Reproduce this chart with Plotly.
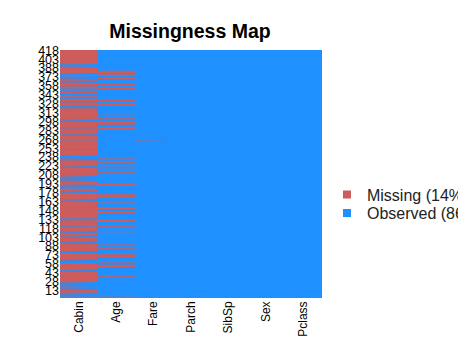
import plotly.graph_objects as go

# variables in the order drawn left -> right
columns = ['Cabin', 'Age', 'Fare', 'Parch', 'SibSp', 'Sex', 'Pclass']
n_rows = 418
row_ticks = list(range(13, 419, 15))

# row numbers counted from the top of the map
cabin_observed = [13, 24, 25, 27, 29, 40, 42, 45, 47, 49, 51, 54, 56, 61, 65, 69, 70, 74, 75, 76,
                  78, 82, 88, 96, 98, 118, 120, 121, 132, 143, 145, 154, 168, 178, 179, 180, 181,
                  182, 184, 186, 196, 198, 212, 213, 215, 217, 219, 220, 222, 228, 230, 232, 234,
                  239, 241, 253, 255, 256, 285, 287, 298, 306, 308, 314, 316, 323, 325, 327, 340,
                  342, 354, 356, 358, 359, 372, 374, 381, 392, 394, 396, 398, 400, 402, 404, 407,
                  410, 411, 413, 414, 415, 416]
age_missing = [33, 34, 37, 38, 39, 42, 43, 48, 49, 58, 59, 64, 65, 66, 85, 86, 91, 92, 93, 94,
               110, 111, 115, 116, 122, 123, 126, 127, 131, 132, 133, 134, 184, 185, 189, 190,
               195, 196, 201, 202, 207, 208, 227, 228, 229, 243, 244, 247, 248, 256, 257, 266,
               267, 268, 273, 274, 275, 286, 287, 288, 289, 290, 297, 298, 309, 310, 327, 328,
               334, 335, 344, 345, 348, 349, 357, 358, 363, 364, 365, 366, 374, 381, 382, 384,
               417, 418]
fare_missing = [153]

missing = {
    'Cabin': [r for r in range(1, n_rows + 1) if r not in cabin_observed],
    'Age': age_missing,
    'Fare': fare_missing,
}


def runs(rows):
    # consecutive row numbers -> (first, last) blocks
    out = []
    for r in sorted(rows):
        if out and r == out[-1][1] + 1:
            out[-1][1] = r
        else:
            out.append([r, r])
    return out


def blocks(state):
    xs, ys = [], []
    for i, c in enumerate(columns):
        miss = set(missing.get(c, []))
        rows = [r for r in range(1, n_rows + 1) if (r in miss) == state]
        for a, b in runs(rows):
            top = n_rows + 1 - a + 0.5
            bot = n_rows + 1 - b - 0.5
            xs += [i - 0.5, i + 0.5, i + 0.5, i - 0.5, None]
            ys += [top, top, bot, bot, None]
    return xs, ys


n_missing = sum(len(v) for v in missing.values())
pct_missing = round(100 * n_missing / (n_rows * len(columns)))

red = '#CD5C5C'
blue = '#1E90FF'
font = 'Liberation Sans, Arial, sans-serif'

fig = go.Figure()
for state, col in [(False, blue), (True, red)]:
    bx, by = blocks(state)
    fig.add_trace(go.Scatter(x=bx, y=by, mode='lines', fill='toself', fillcolor=col,
                             line=dict(width=0, color=col), showlegend=False, hoverinfo='skip'))

fig.add_trace(go.Scatter(x=[None], y=[None], mode='markers', name=f'Missing ({pct_missing}%)',
                         marker=dict(symbol='square', size=8, color=red), legend='legend'))
fig.add_trace(go.Scatter(x=[None], y=[None], mode='markers', name=f'Observed ({100 - pct_missing}%)',
                         marker=dict(symbol='square', size=8, color=blue), legend='legend2'))

leg = dict(x=1.019, xanchor='left', yanchor='middle', bgcolor='rgba(0,0,0,0)',
           font=dict(size=16, family=font, color='#222222'))

fig.update_layout(
    width=466, height=362,
    margin=dict(l=52, r=152, t=42, b=71.5, autoexpand=False),
    paper_bgcolor='white', plot_bgcolor=blue,
    font=dict(family=font, size=13, color='black'),
    title=dict(text='<b>Missingness Map</b>', x=182 / 466, xanchor='center',
               y=1 - 23 / 362, yanchor='middle', font=dict(size=19.5, family=font, color='black')),
    legend=dict(leg, y=0.4165),
    legend2=dict(leg, y=0.342),
    showlegend=True,
)
fig.update_xaxes(tickvals=list(range(len(columns))), ticktext=columns, tickangle=-90,
                 range=[-0.5, len(columns) - 0.5], showgrid=False, zeroline=False, ticks='',
                 tickfont=dict(size=12))
fig.update_yaxes(tickvals=row_ticks, range=[0.5, n_rows + 0.5], showgrid=False, zeroline=False,
                 ticks='', tickfont=dict(size=12.5))

fig.write_html("out.html")
